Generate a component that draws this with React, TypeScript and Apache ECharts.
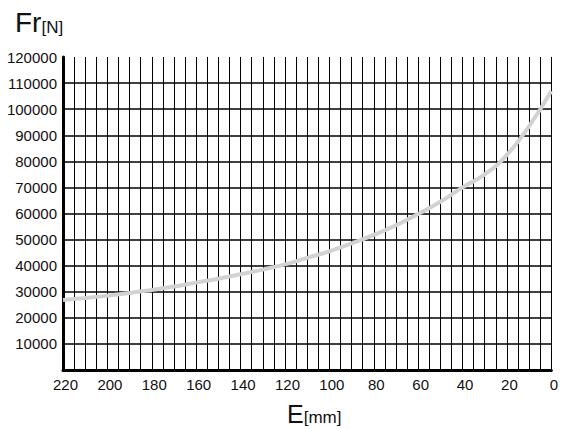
import React, { useEffect, useRef } from "react";
import * as echarts from "echarts";

const eValues = [0, 10, 20, 30, 40, 50, 60, 70, 80, 90, 100, 110, 120, 130, 140, 150, 160, 170, 180, 190, 200, 210, 220];
const frValues = [107000, 93500, 82500, 75000, 70000, 64500, 59800, 55500, 51800, 48500, 45500, 43000, 40500, 38500, 36700, 35000, 33500, 32000, 30700, 29500, 28500, 27600, 26800];
const yTicks = [0, 10000, 20000, 30000, 40000, 50000, 60000, 70000, 80000, 90000, 100000, 110000, 120000];

export default function App() {
  const ref = useRef<HTMLDivElement>(null);
  useEffect(() => {
    if (!ref.current) return;
    const chart = echarts.init(ref.current, null, { renderer: "svg" });
    const font = "'Liberation Sans', Arial, sans-serif";
    chart.setOption({
      animation: false,
      backgroundColor: "#fff",
      textStyle: { fontFamily: font },
      grid: { left: 63, right: 4, top: 57, bottom: 59, containLabel: false },
      xAxis: {
        type: "value",
        inverse: true,
        min: 0,
        max: 220,
        interval: 20,
        axisLine: { show: true, onZero: false, lineStyle: { color: "#000", width: 3 } },
        axisTick: { show: false },
        axisLabel: { fontSize: 15, color: "#111", margin: 7, fontFamily: font, padding: [0, 0, 0, 5] },
        splitLine: { show: true, lineStyle: { color: "#000", width: 1 } },
        minorTick: { show: false, splitNumber: 4 },
        minorSplitLine: { show: true, lineStyle: { color: "#000", width: 1 } },
      },
      yAxis: {
        type: "value",
        min: 0,
        max: 120000,
        interval: 10000,
        axisLine: { show: true, onZero: false, lineStyle: { color: "#000", width: 3 } },
        axisTick: { show: false },
        axisLabel: {
          fontSize: 15,
          color: "#111",
          margin: 6,
          fontFamily: font,
          formatter: (v: number) => (v === 0 ? "" : String(v)),
        },
        splitLine: {
          show: true,
          lineStyle: {
            color: yTicks.map((v) => (v === 120000 ? "transparent" : "#000")),
            width: 1.5,
          },
        },
      },
      graphic: [
        {
          type: "text",
          left: 15,
          top: 8,
          style: {
            text: "{a|Fr}{b|[N]}",
            rich: {
              a: { fontSize: 28, fontFamily: font, fill: "#111" },
              b: { fontSize: 17, fontFamily: font, fill: "#111", verticalAlign: "bottom" },
            },
          },
        },
        {
          type: "text",
          left: 287,
          top: 401,
          style: {
            text: "{a|E}{b|[mm]}",
            rich: {
              a: { fontSize: 25, fontFamily: font, fill: "#111" },
              b: { fontSize: 17, fontFamily: font, fill: "#111", verticalAlign: "bottom" },
            },
          },
        },
      ],
      series: [
        {
          type: "line",
          data: eValues.map((e, i) => [e, frValues[i]]),
          smooth: true,
          showSymbol: false,
          symbol: "none",
          lineStyle: { color: "#d2d2d2", width: 4 },
          z: 5,
        },
      ],
    });
    return () => chart.dispose();
  }, []);
  return (
    <div
      ref={ref}
      style={{ position: "fixed", left: 0, top: 0, width: 561, height: 429 }}
    />
  );
}
